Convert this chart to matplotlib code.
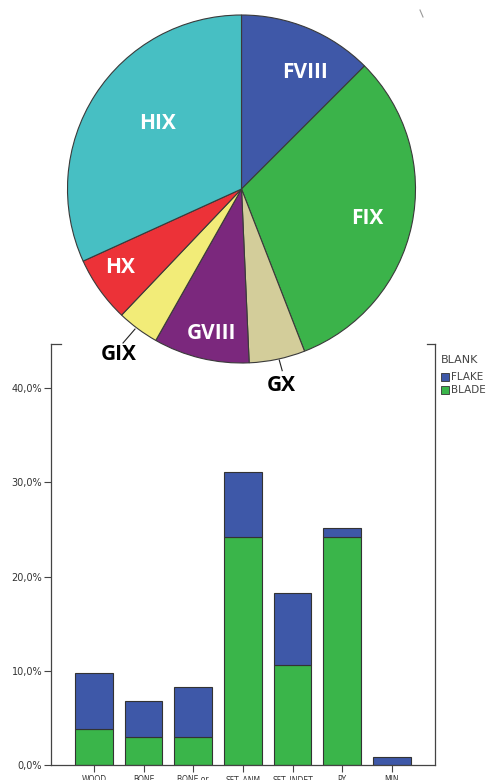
import numpy as np
import matplotlib
matplotlib.use("Agg")
import matplotlib.pyplot as plt
from matplotlib.lines import Line2D
from matplotlib.patches import Rectangle
from matplotlib.ticker import FuncFormatter

# pie data (share of each group, %)
pie_labels = ["FVIII", "FIX", "GX", "GVIII", "GIX", "HX", "HIX"]
pie_values = [12.5, 31.6, 5.2, 8.9, 3.9, 6.1, 31.8]
pie_colors = ["#3F58A8", "#3BB34A", "#D3CD9A", "#7B287D", "#F2EC78", "#EC3238", "#47BFC3"]

# bar data (% of total)
categories = ["WOOD", "BONE", "BONE or", "SFT_ANM", "SFT_INDET", "PY", "MIN"]
blade = [3.8, 3.0, 3.0, 24.2, 10.6, 24.2, 0.0]
flake = [6.0, 3.8, 5.3, 6.9, 7.6, 0.9, 0.8]
yticks = [0, 10, 20, 30, 40]

W, H = 488, 780
fig = plt.figure(figsize=(W / 100, H / 100), dpi=100)
fig.patch.set_facecolor("white")

# ---- stacked bars (drawn first, pie sits on top) ----
left, right, top, bottom = 50.5, 435, 344, 765
ax = fig.add_axes([left / W, 1 - bottom / H, (right - left) / W, (bottom - top) / H])
ax.patch.set_alpha(0)
x = np.arange(len(categories))
ax.bar(x, blade, width=0.76, color="#3AB54A", edgecolor="#333333", linewidth=0.8)
ax.bar(x, flake, width=0.76, bottom=blade, color="#3E58A8", edgecolor="#333333", linewidth=0.8)

ax.set_xlim(-0.875, 6.87)
ax.set_ylim(0, (bottom - top) / 9.425)
ax.set_yticks(yticks)
ax.yaxis.set_major_formatter(FuncFormatter(lambda v, p: f"{v:.1f}%".replace(".", ",")))
ax.set_xticks(x)
ax.set_xticklabels(categories)
ax.tick_params(axis="y", direction="out", length=5, width=0.8, color="#444444",
               labelsize=7, labelcolor="#333333", pad=1)
ax.tick_params(axis="x", direction="out", length=5, width=0.8, color="#444444",
               labelsize=5.5, labelcolor="#333333", pad=2)
for s in ["left", "bottom", "right"]:
    ax.spines[s].set_color("#444444")
    ax.spines[s].set_linewidth(0.9)
ax.spines["top"].set_visible(False)
# small bracket ticks at the top of the frame
ax.plot([0, 10 / (right - left)], [1, 1], transform=ax.transAxes,
        color="#444444", lw=0.9, clip_on=False)
ax.plot([1 - 8 / (right - left), 1], [1, 1], transform=ax.transAxes,
        color="#444444", lw=0.9, clip_on=False)

# legend
fig.text(441 / W, 1 - 360 / H, "BLANK", fontsize=8, color="#444444", va="center", ha="left")
for i, (lab, col) in enumerate([("FLAKE", "#3E58A8"), ("BLADE", "#3AB54A")]):
    yy = 377 + i * 13
    fig.add_artist(Rectangle((441 / W, 1 - (yy + 4) / H), 8 / W, 8 / H,
                             transform=fig.transFigure, facecolor=col,
                             edgecolor="#333333", linewidth=0.6))
    fig.text(450.5 / W, 1 - yy / H, lab, fontsize=7.5, color="#444444", va="center", ha="left")

# ---- pie ----
cx, cy, r = 241.5, 189, 174
axp = fig.add_axes([(cx - r) / W, 1 - (cy + r) / H, 2 * r / W, 2 * r / H])
axp.set_zorder(5)
axp.patch.set_alpha(0)
axp.pie(pie_values, colors=pie_colors, startangle=90, counterclock=False,
        wedgeprops=dict(edgecolor="#3a3a3a", linewidth=0.8))
axp.set_xlim(-1, 1)
axp.set_ylim(-1, 1)
axp.set_aspect("equal")
axp.axis("off")

lab_font = dict(family="Open Sans", fontweight="bold", fontsize=15,
                ha="center", va="center")
inside = {"FVIII": (0.365, 0.667), "FIX": (0.721, -0.167), "HIX": (-0.48, 0.374),
          "HX": (-0.698, -0.454), "GVIII": (-0.17, -0.833)}
for name, (px, py) in inside.items():
    axp.text(px, py, name, color="white", **lab_font)
outside = {"GIX": ((-0.704, -0.954), (-0.612, -0.805), (-0.681, -0.885)),
           "GX": ((0.231, -1.129), (0.217, -0.983), (0.234, -1.044))}
for name, ((px, py), p0, p1) in outside.items():
    axp.text(px, py, name, color="black", **lab_font)
    axp.plot([p0[0], p1[0]], [p0[1], p1[1]], color="#222222", lw=0.8, clip_on=False)

# stray mark at top right
fig.add_artist(Line2D([420 / W, 423 / W], [1 - 10 / H, 1 - 17 / H],
                      transform=fig.transFigure, color="#999999", lw=0.8))

fig.savefig("out.png", dpi=100)
